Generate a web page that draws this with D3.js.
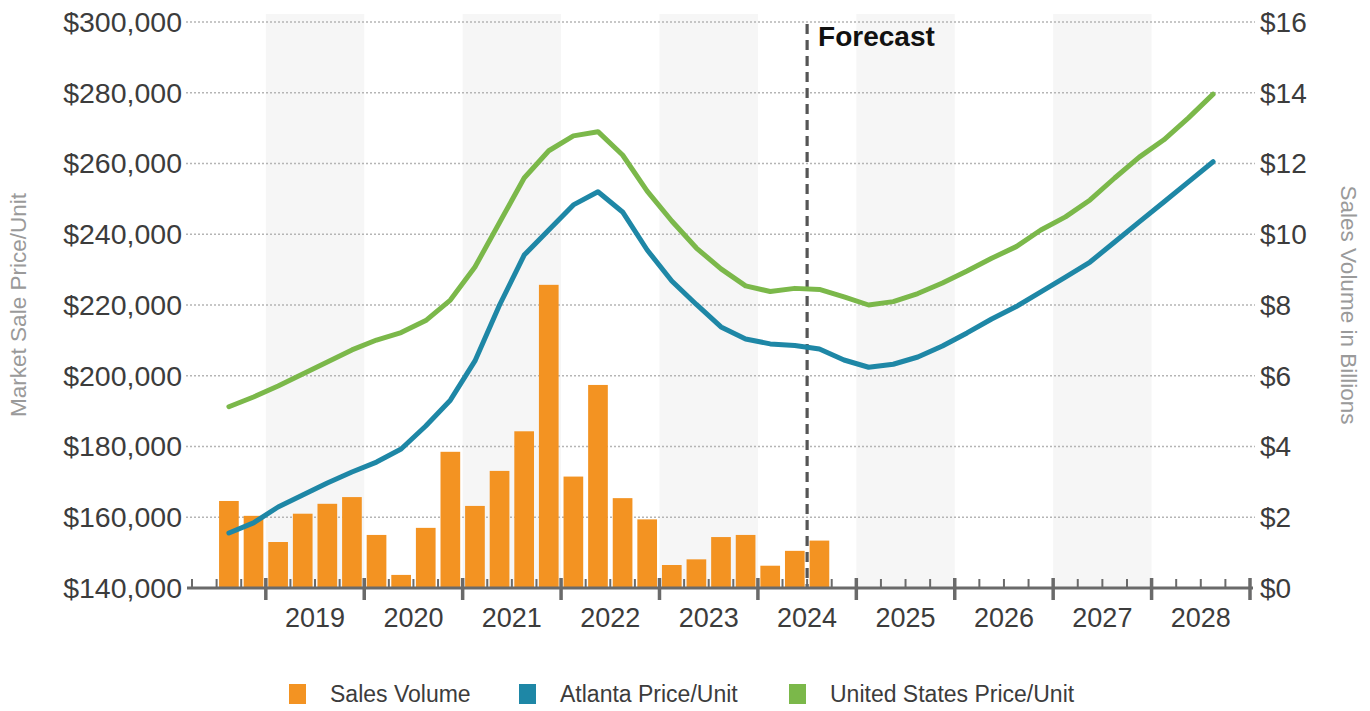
<!DOCTYPE html>
<html>
<head>
<meta charset="utf-8">
<script src="https://cdn.jsdelivr.net/npm/d3@7"></script>
<style>
  html, body { margin: 0; padding: 0; background: #fff; }
  svg { display: block; font-family: "Liberation Sans", Arial, sans-serif; }
</style>
</head>
<body>
<svg id="chart" width="1370" height="711"></svg>
<script>
// Quarterly axis runs from 2018 Q2 through 2028 Q4
const axisYears = [2018, 2019, 2020, 2021, 2022, 2023, 2024, 2025, 2026, 2027, 2028];
const yearLabels = ["2019", "2020", "2021", "2022", "2023", "2024", "2025", "2026", "2027", "2028"];
const shadedYears = [2019, 2021, 2023, 2025, 2027];

// Sales volume ($ billions), 2018 Q3 – 2024 Q3
const salesVolume = [2.46, 2.04, 1.30, 2.10, 2.38, 2.57, 1.50, 0.37, 1.70, 3.85, 2.32, 3.31, 4.43,
  8.57, 3.15, 5.74, 2.54, 1.94, 0.65, 0.81, 1.44, 1.50, 0.63, 1.05, 1.34];

// Market sale price per unit, 2018 Q3 – 2028 Q3
const atlantaPrice = [155550, 158400, 162900, 166300, 169700, 172800, 175600, 179300, 185800, 193100,
  204200, 220000, 234100, 241200, 248300, 252000, 246300, 235550, 226800, 220150, 213800, 210400,
  209000, 208550, 207550, 204450, 202400, 203250, 205300, 208400, 212100, 216050, 219550, 223700,
  227900, 232150, 237800, 243500, 249100, 254800, 260500];
const usPrice = [191250, 194000, 197100, 200500, 203900, 207300, 210100, 212200, 215600, 221400,
  230750, 243300, 255900, 263600, 267800, 269000, 262400, 252200, 243750, 236100, 230200, 225400,
  223800, 224700, 224400, 222300, 220000, 220950, 223250, 226200, 229600, 233200, 236500, 241200,
  244900, 249700, 255900, 261800, 266700, 272900, 279600];

const priceTicks = [140000, 160000, 180000, 200000, 220000, 240000, 260000, 280000, 300000];
const volumeTicks = [0, 2, 4, 6, 8, 10, 12, 14, 16];

const firstDataQuarter = "2018 Q3";
const forecastStart = "2024 Q3";

const colors = { volume: "#F39322", atlanta: "#1E87A6", us: "#7BB84A" };

// ---- quarter keys ----
const quarters = [];
axisYears.forEach(y => [1, 2, 3, 4].forEach(q => {
  if (y === 2018 && q < 2) return;
  quarters.push(`${y} Q${q}`);
}));
const startIdx = quarters.indexOf(firstDataQuarter);
const volumeData = salesVolume.map((v, i) => ({ q: quarters[startIdx + i], v }));
const atlantaData = atlantaPrice.map((v, i) => ({ q: quarters[startIdx + i], v }));
const usData = usPrice.map((v, i) => ({ q: quarters[startIdx + i], v }));

// ---- layout ----
const svg = d3.select("#chart");
const plotLeft = 192, plotRight = 1250, plotTop = 22, plotBottom = 588;
const textColor = "#3c3c3c";

const x = d3.scaleBand().domain(quarters).range([plotLeft, plotRight]).paddingInner(0.2).paddingOuter(0.1);
const gap = x.step() - x.bandwidth();
const qStart = q => x(q) - gap / 2;
const qEnd = q => x(q) + x.bandwidth() + gap / 2;
const qMid = q => x(q) + x.bandwidth() / 2;

const yPrice = d3.scaleLinear().domain([140000, 300000]).range([plotBottom, plotTop]);
const yVol = d3.scaleLinear().domain([0, 16]).range([plotBottom, plotTop]);

// ---- alternating year shading ----
svg.append("g").selectAll("rect").data(shadedYears).join("rect")
  .attr("x", d => qStart(`${d} Q1`))
  .attr("width", d => qEnd(`${d} Q4`) - qStart(`${d} Q1`))
  .attr("y", 14)
  .attr("height", plotBottom - 14)
  .attr("fill", "#f6f6f6");

// ---- gridlines ----
svg.append("g").selectAll("line").data(priceTicks.slice(1)).join("line")
  .attr("x1", 186).attr("x2", 1255)
  .attr("y1", d => yPrice(d)).attr("y2", d => yPrice(d))
  .attr("stroke", "#b5b5b5").attr("stroke-width", 1.3)
  .attr("stroke-dasharray", "2,2");

// ---- bars ----
svg.append("g").selectAll("rect").data(volumeData).join("rect")
  .attr("x", d => x(d.q))
  .attr("width", x.bandwidth())
  .attr("y", d => yVol(d.v))
  .attr("height", d => yVol(0) - yVol(d.v))
  .attr("fill", colors.volume);

// ---- forecast marker ----
const fx = qStart(forecastStart);
svg.append("line")
  .attr("x1", fx).attr("x2", fx).attr("y1", 24).attr("y2", plotBottom)
  .attr("stroke", "#555").attr("stroke-width", 3.2).attr("stroke-dasharray", "10,6");
svg.append("text")
  .attr("x", fx + 11).attr("y", 46)
  .attr("font-size", 28).attr("font-weight", "bold").attr("fill", "#111")
  .text("Forecast");

// ---- price lines ----
const line = d3.line().x(d => qMid(d.q)).y(d => yPrice(d.v));
[[usData, colors.us], [atlantaData, colors.atlanta]].forEach(([data, c]) => {
  svg.append("path").datum(data)
    .attr("d", line).attr("fill", "none")
    .attr("stroke", c).attr("stroke-width", 5)
    .attr("stroke-linejoin", "round").attr("stroke-linecap", "round");
});

// ---- x axis ----
const axisColor = "#6a6a6a";
const xg = svg.append("g");
xg.append("line").attr("x1", 187).attr("x2", 1253).attr("y1", plotBottom).attr("y2", plotBottom)
  .attr("stroke", axisColor).attr("stroke-width", 3);
const boundaries = quarters.map(q => ({ x: qStart(q), major: q.endsWith("Q1") }))
  .concat([{ x: qEnd(quarters[quarters.length - 1]), major: true }]);
xg.selectAll("line.tick").data(boundaries).join("line").attr("class", "tick")
  .attr("x1", d => d.x).attr("x2", d => d.x)
  .attr("y1", d => d.major ? plotBottom - 10 : plotBottom - 9)
  .attr("y2", d => d.major ? plotBottom + 12 : plotBottom)
  .attr("stroke", axisColor).attr("stroke-width", d => d.major ? 3.5 : 2);
xg.selectAll("text").data(yearLabels).join("text")
  .attr("x", d => (qStart(`${d} Q1`) + qEnd(`${d} Q4`)) / 2)
  .attr("y", 627)
  .attr("text-anchor", "middle").attr("font-size", 27).attr("fill", textColor)
  .text(d => d);

// ---- y axes ----
const fmtPrice = d3.format("$,");
svg.append("g").selectAll("text").data(priceTicks).join("text")
  .attr("x", 182).attr("y", d => yPrice(d))
  .attr("dy", "0.35em").attr("text-anchor", "end")
  .attr("font-size", 28.5).attr("fill", textColor)
  .text(d => fmtPrice(d));
svg.append("g").selectAll("text").data(volumeTicks).join("text")
  .attr("x", 1260).attr("y", d => yVol(d))
  .attr("dy", "0.35em").attr("text-anchor", "start")
  .attr("font-size", 28).attr("fill", textColor)
  .text(d => "$" + d);

svg.append("text")
  .attr("transform", `translate(26,${(plotTop + plotBottom) / 2}) rotate(-90)`)
  .attr("text-anchor", "middle").attr("font-size", 22.5).attr("fill", "#9a9a9a")
  .text("Market Sale Price/Unit");
svg.append("text")
  .attr("transform", `translate(1341,${(plotTop + plotBottom) / 2}) rotate(90)`)
  .attr("text-anchor", "middle").attr("font-size", 22.5).attr("fill", "#9a9a9a")
  .text("Sales Volume in Billions");

// ---- legend ----
const legendItems = [
  { label: "Sales Volume", color: colors.volume, x: 289 },
  { label: "Atlanta Price/Unit", color: colors.atlanta, x: 519 },
  { label: "United States Price/Unit", color: colors.us, x: 789 }
];
const lg = svg.append("g").selectAll("g").data(legendItems).join("g")
  .attr("transform", d => `translate(${d.x},684)`);
lg.append("rect").attr("width", 17).attr("height", 20).attr("fill", d => d.color);
lg.append("text").attr("x", 41).attr("y", 10).attr("dy", "0.35em")
  .attr("font-size", 23).attr("fill", textColor).text(d => d.label);
</script>
</body>
</html>
